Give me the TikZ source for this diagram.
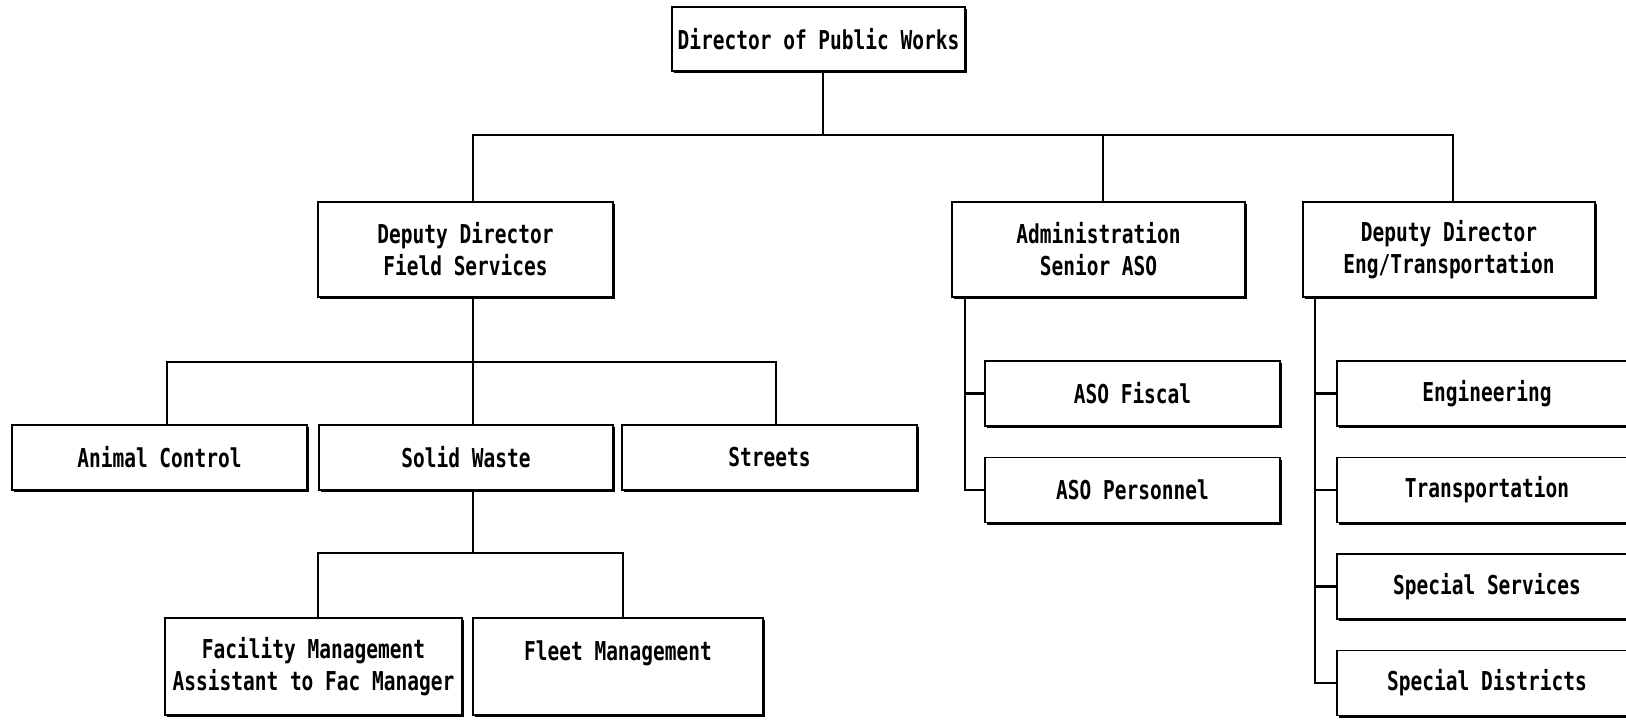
\documentclass[tikz,border=0pt]{standalone}
\usepackage{fontspec}
\newfontfamily\dotfont{DejaVu Sans Mono}[FakeStretch=0.75]
\usetikzlibrary{shadows}
\begin{document}
\begin{tikzpicture}[x=1pt,y=-1pt,
  box/.style={draw, line width=1.9pt, fill=white, align=center, inner sep=0pt,
    font=\dotfont\bfseries\fontsize{26}{32}\selectfont,
    drop shadow={shadow xshift=2.4pt, shadow yshift=-2.4pt, opacity=1, fill=black}},
  conn/.style={line width=2.2pt}]
\useasboundingbox (0,0) rectangle (1626,720);
\fill[white] (0,0) rectangle (1626,720);
% top
\node[box, minimum width=293pt, minimum height=64pt] (dir) at (818.5,39) {Director of Public Works};
% level 1
\node[box, minimum width=295pt, minimum height=95pt] (field) at (465.5,249.5) {Deputy Director\\Field Services};
\node[box, minimum width=293pt, minimum height=95pt] (admin) at (1098.5,249.5) {Administration\\Senior ASO};
\node[box, minimum width=292pt, minimum height=95pt] (eng) at (1449,249.5) {Deputy Director\\Eng/Transportation};
% level 2
\node[box, minimum width=295pt, minimum height=65pt] (animal) at (159.5,457.5) {Animal Control};
\node[box, minimum width=294pt, minimum height=65pt] (solid) at (466,457.5) {Solid Waste};
\node[box, minimum width=295pt, minimum height=65pt] (streets) at (769.5,457.5) {Streets};
% level 3
\node[box, minimum width=297pt, minimum height=97pt] (fac) at (313.5,666.5) {Facility Management\\Assistant to Fac Manager};
\node[box, minimum width=290pt, minimum height=97pt] (fleet) at (618,666.5) {Fleet Management\\~};
% admin subs
\node[box, minimum width=295pt, minimum height=65pt] (fisc) at (1132.5,393.5) {ASO Fiscal};
\node[box, minimum width=295pt, minimum height=65pt] (pers) at (1132.5,490) {ASO Personnel};
% eng subs
\node[box, minimum width=300pt, minimum height=65pt] (engr) at (1487,393.5) {Engineering};
\node[box, minimum width=300pt, minimum height=65pt] (trans) at (1487,490) {Transportation};
\node[box, minimum width=300pt, minimum height=65pt] (sserv) at (1487,586.5) {Special Services};
\node[box, minimum width=300pt, minimum height=65pt] (sdist) at (1487,683) {Special Districts};
% coordinates
\coordinate (b0) at (823,135);
\coordinate (bF) at (473,135);
\coordinate (bA) at (1103,135);
\coordinate (bE) at (1453,135);
\coordinate (l2l) at (167,362);
\coordinate (l2m) at (473,362);
\coordinate (l2r) at (776,362);
\coordinate (l3l) at (318,553);
\coordinate (l3m) at (473,553);
\coordinate (l3r) at (623,553);
\coordinate (av) at (965,297);
\coordinate (ev) at (1315,297);
% connectors
\draw[conn] (dir.south -| b0) -- (b0);
\draw[conn] (field.north -| bF) -- (bF) -- (bE) -- (eng.north -| bE);
\draw[conn] (bA) -- (admin.north -| bA);
\draw[conn] (field.south -| l2m) -- (solid.north -| l2m);
\draw[conn] (animal.north -| l2l) -- (l2l) -- (l2r) -- (streets.north -| l2r);
\draw[conn] (solid.south -| l3m) -- (l3m);
\draw[conn] (fac.north -| l3l) -- (l3l) -- (l3r) -- (fleet.north -| l3r);
\draw[conn] (admin.south -| av) -- (av |- pers.west) -- (pers.west);
\draw[conn] (av |- fisc.west) -- (fisc.west);
\draw[conn] (eng.south -| ev) -- (ev |- sdist.west) -- (sdist.west);
\draw[conn] (ev |- engr.west) -- (engr.west);
\draw[conn] (ev |- trans.west) -- (trans.west);
\draw[conn] (ev |- sserv.west) -- (sserv.west);
\end{tikzpicture}
\end{document}
